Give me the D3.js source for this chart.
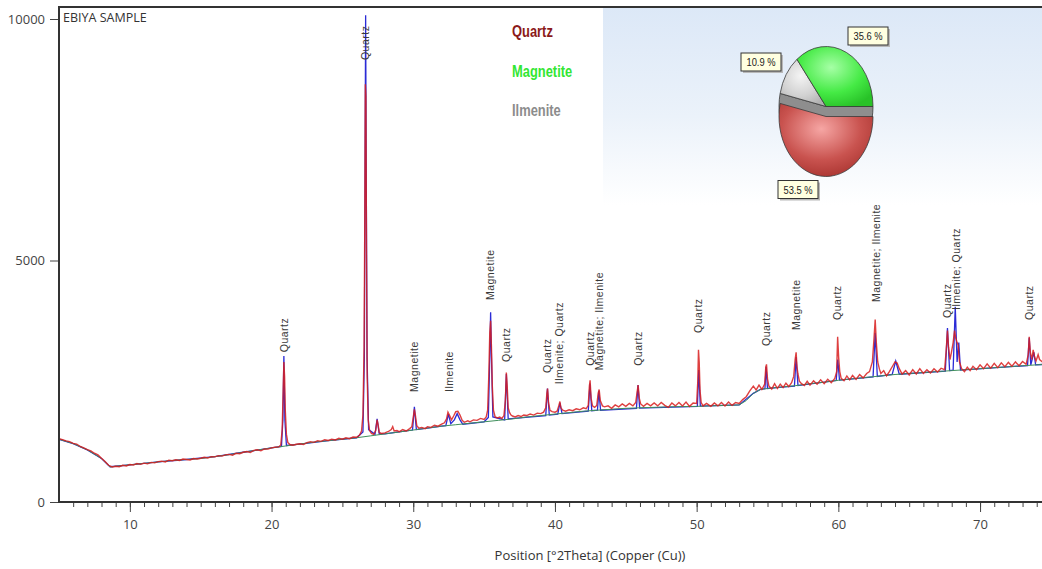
<!DOCTYPE html>
<html>
<head>
<meta charset="utf-8">
<script src="https://cdnjs.cloudflare.com/ajax/libs/d3/7.8.5/d3.min.js"></script>
<style>
  body { margin: 0; background: #fff; }
  svg { display: block; }
</style>
</head>
<body>
<script>
var WIDTH = 1042, HEIGHT = 569;

// observed scan [2theta, counts]
var observed = [
  [5.0,1310],[5.25,1290],[5.5,1265],[5.75,1250],[6.0,1215],[6.25,1200],[6.5,1150],[6.75,1120],[7.0,1085],[7.25,1060],
  [7.5,1010],[7.75,975],[8.0,905],[8.25,840],[8.5,760],[8.75,725],[9.0,740],[9.25,730],[9.5,760],[9.75,745],
  [10.0,775],[10.25,765],[10.5,795],[10.75,780],[11.0,805],[11.25,790],[11.5,820],[11.75,810],[12.0,835],[12.25,845],
  [12.5,830],[12.75,865],[13.0,855],[13.25,875],[13.5,860],[13.75,890],[14.0,880],[14.25,870],[14.5,900],[14.75,890],
  [15.0,905],[15.25,925],[15.5,910],[15.75,940],[16.0,935],[16.25,960],[16.5,950],[16.75,975],[17.0,985],[17.25,970],
  [17.5,1010],[17.75,1000],[18.0,1030],[18.25,1045],[18.5,1025],[18.75,1070],[19.0,1080],[19.25,1060],[19.5,1100],[19.75,1095],
  [20.0,1120],[20.25,1135],[20.5,1140],[20.65,1180],[20.75,1500],[20.82,2300],[20.87,2900],[20.92,2600],[20.97,1900],[21.05,1400],
  [21.15,1230],[21.3,1190],[21.5,1175],[21.75,1195],[22.0,1205],[22.25,1190],[22.5,1230],[22.75,1250],[23.0,1235],[23.25,1270],
  [23.5,1255],[23.75,1290],[24.0,1275],[24.25,1300],[24.5,1285],[24.75,1320],[25.0,1300],[25.25,1330],[25.5,1310],[25.75,1345],
  [26.0,1340],[26.2,1380],[26.35,1470],[26.45,1800],[26.53,3200],[26.58,5800],[26.62,8650],[26.66,8400],[26.7,5200],[26.75,2600],
  [26.82,1700],[26.92,1480],[27.05,1420],[27.2,1400],[27.35,1480],[27.45,1700],[27.52,1600],[27.6,1440],[27.75,1420],[28.0,1430],
  [28.25,1460],[28.45,1500],[28.55,1560],[28.65,1470],[28.85,1480],[29.0,1455],[29.25,1500],[29.5,1470],[29.75,1520],[29.9,1560],
  [30.0,1750],[30.08,1920],[30.15,1800],[30.25,1580],[30.4,1530],[30.6,1545],[30.85,1520],[31.0,1560],[31.25,1545],[31.5,1590],
  [31.75,1570],[32.0,1610],[32.2,1640],[32.35,1720],[32.45,1860],[32.55,1800],[32.7,1700],[32.85,1780],[33.0,1870],[33.15,1880],
  [33.3,1800],[33.45,1690],[33.6,1650],[33.85,1680],[34.0,1660],[34.25,1700],[34.5,1690],[34.75,1730],[35.0,1710],[35.15,1760],
  [35.25,1900],[35.33,2600],[35.4,3500],[35.46,3750],[35.52,3200],[35.58,2400],[35.66,1900],[35.78,1760],[35.95,1740],[36.1,1760],
  [36.25,1730],[36.4,1790],[36.5,2100],[36.57,2680],[36.63,2400],[36.7,1950],[36.8,1850],[36.9,1800],[37.0,1780],[37.2,1760],
  [37.4,1790],[37.6,1770],[37.8,1800],[38.0,1790],[38.25,1820],[38.5,1800],[38.75,1840],[39.0,1830],[39.2,1860],[39.35,1950],
  [39.43,2250],[39.48,2350],[39.55,2050],[39.65,1900],[39.8,1870],[40.0,1860],[40.15,1880],[40.28,2000],[40.35,2080],[40.42,1950],
  [40.55,1900],[40.75,1880],[41.0,1910],[41.25,1890],[41.5,1930],[41.75,1910],[42.0,1950],[42.2,1930],[42.35,2000],[42.43,2400],
  [42.48,2520],[42.55,2150],[42.65,1990],[42.8,1960],[42.95,2000],[43.05,2250],[43.12,2330],[43.2,2100],[43.35,1990],[43.5,1970],
  [43.75,1990],[44.0,1940],[44.25,2010],[44.5,1970],[44.75,2030],[45.0,1980],[45.25,2040],[45.5,1990],[45.7,2060],[45.8,2280],
  [45.87,2420],[45.95,2150],[46.05,2030],[46.25,1980],[46.5,2040],[46.75,1990],[47.0,2050],[47.25,1990],[47.5,2060],[47.75,2000],
  [48.0,1960],[48.25,2050],[48.5,1990],[48.75,2060],[49.0,1990],[49.25,2070],[49.5,1980],[49.75,2050],[50.0,2040],[50.08,2500],
  [50.13,3150],[50.18,2900],[50.24,2300],[50.32,2060],[50.45,1990],[50.7,2040],[51.0,1980],[51.25,2050],[51.5,1990],[51.75,2060],
  [52.0,1990],[52.25,2070],[52.5,2000],[52.75,2060],[53.0,2040],[53.25,2120],[53.5,2180],[53.75,2300],[54.0,2400],[54.2,2320],
  [54.4,2420],[54.6,2330],[54.8,2440],[54.88,2800],[54.93,2850],[55.0,2550],[55.1,2400],[55.3,2340],[55.5,2450],[55.7,2350],
  [55.9,2440],[56.1,2370],[56.3,2460],[56.5,2390],[56.7,2470],[56.85,2600],[56.95,2950],[57.02,3100],[57.08,2800],[57.15,2650],
  [57.25,2500],[57.4,2450],[57.6,2410],[57.8,2500],[58.0,2420],[58.25,2510],[58.5,2440],[58.75,2530],[59.0,2450],[59.25,2540],
  [59.5,2470],[59.75,2560],[59.88,2700],[59.95,3420],[60.02,3000],[60.1,2700],[60.2,2560],[60.4,2510],[60.6,2610],[60.8,2530],
  [61.0,2620],[61.25,2540],[61.5,2640],[61.75,2570],[62.0,2660],[62.2,2700],[62.4,2900],[62.52,3400],[62.6,3780],[62.68,3300],
  [62.78,2900],[62.9,2750],[63.0,2660],[63.2,2720],[63.4,2610],[63.6,2700],[63.8,2800],[64.0,2900],[64.15,2880],[64.3,2760],
  [64.5,2650],[64.75,2720],[65.0,2630],[65.25,2740],[65.5,2650],[65.75,2760],[66.0,2660],[66.25,2740],[66.5,2670],[66.75,2760],
  [67.0,2690],[67.25,2770],[67.5,2740],[67.6,3100],[67.7,3550],[67.78,3200],[67.88,2950],[67.98,3100],[68.1,3300],[68.2,3550],
  [68.28,3400],[68.38,3300],[68.45,3250],[68.55,2900],[68.7,2760],[68.9,2700],[69.1,2790],[69.3,2720],[69.5,2810],[69.75,2740],
  [70.0,2840],[70.25,2760],[70.5,2860],[70.75,2770],[71.0,2870],[71.25,2780],[71.5,2880],[71.75,2800],[72.0,2890],[72.25,2810],
  [72.5,2900],[72.75,2820],[73.0,2910],[73.25,2850],[73.4,3050],[73.47,3420],[73.55,3100],[73.65,2950],[73.75,3150],[73.85,3000],
  [73.95,2920],[74.1,3050],[74.2,2950],[74.4,2900],[74.6,2880]
];

// calculated profile [2theta, counts]
var calculated = [
  [5,1300],[6,1210],[7,1080],[8,900],[8.6,730],[9,740],[10,770],[12,830],[14,880],[16,940],[18,1030],[20,1120],
  [20.7,1150],[20.8,1700],[20.87,3020],[20.94,1700],[21.05,1170],[22,1200],[24,1270],[26,1330],
  [26.45,1450],[26.55,3000],[26.6,7000],[26.64,10080],[26.68,7000],[26.74,3000],[26.85,1500],
  [27.3,1400],[27.45,1720],[27.6,1410],[28,1410],[29,1450],[29.95,1490],[30.08,1970],[30.22,1500],[31,1530],[32,1570],
  [32.3,1580],[32.48,1820],[32.65,1620],[32.9,1700],[33.1,1830],[33.3,1700],[33.5,1610],[35,1660],
  [35.3,1750],[35.4,3000],[35.46,3930],[35.52,3000],[35.62,1760],[36.45,1700],[36.57,2650],[36.7,1720],
  [39.35,1790],[39.47,2350],[39.6,1800],[40.2,1820],[40.35,2050],[40.5,1830],[42.35,1880],[42.47,2450],[42.6,1890],
  [43,1900],[43.1,2300],[43.22,1900],[45.75,1940],[45.86,2420],[45.98,1945],[50.05,1980],[50.15,2730],[50.26,1985],
  [53,2010],[54,2250],[54.5,2330],[54.82,2345],[54.9,2800],[55.0,2350],[56,2380],[56.9,2400],[57.02,3000],[57.15,2410],
  [59.85,2515],[59.96,2950],[60.08,2525],[62.45,2590],[62.6,3500],[62.75,2600],[63.8,2640],[64.05,2920],[64.3,2645],
  [67.55,2710],[67.7,3600],[67.85,2720],[68.1,2730],[68.25,4040],[68.38,2900],[68.5,3300],[68.62,2730],
  [73.35,2825],[73.47,3400],[73.58,2835],[73.8,3100],[73.92,2840],[74.6,2850]
];

// fitted background [2theta, counts]
var background = [
  [5,1300],[6,1210],[7,1080],[8,900],[8.6,725],[9,740],[10,770],[11,800],[12,830],[13,860],[14,880],[15,900],
  [16,940],[17,980],[18,1030],[19,1075],[20,1120],[21,1160],[22,1200],[23,1240],[24,1270],[25,1300],[26,1330],
  [27,1370],[28,1410],[29,1450],[30,1490],[31,1530],[32,1570],[33,1600],[34,1630],[35,1660],[36,1690],[37,1720],
  [38,1760],[39,1790],[40,1820],[41,1850],[42,1880],[43,1900],[44,1920],[45,1940],[46,1950],[47,1960],[48,1970],
  [49,1975],[50,1980],[51,1990],[52,2000],[53,2010],[53.5,2100],[54,2250],[54.5,2330],[55,2350],[56,2380],[57,2410],
  [58,2450],[59,2480],[60,2520],[61,2550],[62,2580],[63,2610],[64,2640],[65,2660],[66,2680],[67,2700],[68,2720],
  [69,2740],[70,2760],[71,2780],[72,2800],[73,2820],[74,2840],[74.6,2850]
];

// peak annotations [2theta, text, label start in counts]
var peakLabels = [
  [20.9,'Quartz',3100],
  [26.65,'Quartz',9150],
  [30.1,'Magnetite',2280],
  [32.55,'Ilmenite',2280],
  [35.46,'Magnetite',4180],
  [36.6,'Quartz',2900],
  [39.48,'Quartz',2670],
  [40.33,'Ilmenite; Quartz',2440],
  [42.48,'Quartz',2820],
  [43.1,'Magnetite; Ilmenite',2730],
  [45.86,'Quartz',2820],
  [50.15,'Quartz',3500],
  [54.9,'Quartz',3230],
  [57.0,'Magnetite',3560],
  [59.95,'Quartz',3770],
  [62.65,'Magnetite; Ilmenite',4140],
  [67.72,'Quartz',3810],
  [68.3,'Ilmenite; Quartz',3975],
  [73.47,'Quartz',3770]
];

var phases = ['Quartz', 'Ilmenite', 'Magnetite'];
var phaseShares = [53.5, 10.9, 35.6];
var legendNames = ['Quartz', 'Magnetite', 'Ilmenite'];
var legendColors = ['#8b1a1a', '#33e633', '#8c8c8c'];

var xTicks = [10, 20, 30, 40, 50, 60, 70];
var yTicks = [0, 5000, 10000];

var PLOT_LEFT = 59, PLOT_TOP = 7, PLOT_BOTTOM = 502;

var x = d3.scaleLinear().domain([5, 75]).range([PLOT_LEFT, PLOT_LEFT + 70 * 14.17]);
var y = d3.scaleLinear().domain([0, 10000]).range([PLOT_BOTTOM, 19]);

var svg = d3.select('body').append('svg')
  .attr('width', WIDTH)
  .attr('height', HEIGHT);

var defs = svg.append('defs');
defs.append('clipPath').attr('id', 'plot-clip')
  .append('rect')
    .attr('x', PLOT_LEFT).attr('y', PLOT_TOP)
    .attr('width', WIDTH - PLOT_LEFT).attr('height', PLOT_BOTTOM - PLOT_TOP);

var inset = defs.append('linearGradient').attr('id', 'inset-bg')
  .attr('x1', 0).attr('y1', 0).attr('x2', 0).attr('y2', 1);
inset.append('stop').attr('offset', '0%').attr('stop-color', '#dce8f7');
inset.append('stop').attr('offset', '55%').attr('stop-color', '#ebf2fa');
inset.append('stop').attr('offset', '100%').attr('stop-color', '#ffffff');

function radial(id, c0, c1, c2) {
  var g = defs.append('radialGradient').attr('id', id)
    .attr('cx', '45%').attr('cy', '35%').attr('r', '70%');
  g.append('stop').attr('offset', '0%').attr('stop-color', c0);
  g.append('stop').attr('offset', '60%').attr('stop-color', c1);
  g.append('stop').attr('offset', '100%').attr('stop-color', c2);
}
radial('pie-red', '#f6a6a4', '#c9534f', '#a8332f');
radial('pie-gray', '#f4f4f4', '#d2d2d2', '#b0b0b0');
radial('pie-green', '#a6ffa6', '#45ea45', '#28c228');

var plot = svg.append('g').attr('clip-path', 'url(#plot-clip)');

var line = d3.line()
  .x(function (d) { return x(d[0]); })
  .y(function (d) { return y(d[1]); });

plot.append('path')
  .datum(calculated)
  .attr('d', line)
  .style('fill', 'none')
  .style('stroke', '#2b2bd6')
  .style('stroke-width', 1.3);

plot.append('path')
  .datum(background)
  .attr('d', line)
  .style('fill', 'none')
  .style('stroke', '#3f8f5c')
  .style('stroke-width', 1);

plot.append('path')
  .datum(observed)
  .attr('d', line)
  .style('fill', 'none')
  .style('stroke', '#d81e1e')
  .style('stroke-opacity', 0.85)
  .style('stroke-width', 1.4);

plot.selectAll('text.peak')
  .data(peakLabels)
  .enter().append('text')
    .attr('class', 'peak')
    .attr('transform', function (d) {
      return 'translate(' + x(d[0]) + ',' + y(d[2]) + ') rotate(-90)';
    })
    .attr('dy', '0.35em')
    .style('font-family', '"Liberation Sans", Arial, sans-serif')
    .style('font-size', '10.5px')
    .style('letter-spacing', '0.5px')
    .style('fill', '#3a3a3a')
    .text(function (d) { return d[1]; });

// inset with legend and pie
svg.append('rect')
  .attr('x', 603).attr('y', PLOT_TOP + 1)
  .attr('width', WIDTH - 603).attr('height', 197)
  .style('fill', 'url(#inset-bg)');

svg.selectAll('text.legend')
  .data(legendNames)
  .enter().append('text')
    .attr('class', 'legend')
    .attr('transform', function (d, i) {
      return 'translate(512,' + (37 + i * 39.5) + ') scale(0.76,1)';
    })
    .style('font-family', '"Liberation Sans", Arial, sans-serif')
    .style('font-weight', 'bold')
    .style('font-size', '17px')
    .style('fill', function (d, i) { return legendColors[i]; })
    .text(function (d) { return d; });

var PIE_X = 826, PIE_Y = 106.5, RX = 47, RY = 60, DROP = 10;
var pie = d3.pie().sort(null)
  .startAngle(Math.PI / 2)
  .endAngle(Math.PI / 2 + 2 * Math.PI);
var arcs = pie(phaseShares);
var arc = d3.arc().innerRadius(0).outerRadius(1);
var fills = ['url(#pie-red)', 'url(#pie-gray)', 'url(#pie-green)'];

function slice(d, dy, fill) {
  svg.append('path')
    .attr('d', arc(d))
    .attr('transform', 'translate(' + PIE_X + ',' + (PIE_Y + dy) + ') scale(' + RX + ',' + RY + ')')
    .attr('vector-effect', 'non-scaling-stroke')
    .style('fill', fill)
    .style('stroke', '#3a3a3a')
    .style('stroke-width', 0.8);
}
slice(arcs[0], 0, '#8e8e8e');
slice(arcs[0], DROP, fills[0]);
slice(arcs[1], 0, fills[1]);
slice(arcs[2], 0, fills[2]);

var boxCenters = [[798, 189.5], [761, 62], [868, 36]];
arcs.forEach(function (d, i) {
  var c = boxCenters[i];
  var g = svg.append('g').attr('transform', 'translate(' + (c[0] - 20) + ',' + (c[1] - 9) + ')');
  g.append('rect').attr('x', 2).attr('y', 2).attr('width', 40).attr('height', 18)
    .style('fill', '#b8b8b8');
  g.append('rect').attr('width', 40).attr('height', 18)
    .style('fill', '#ffffe0').style('stroke', '#333').style('stroke-width', 1);
  g.append('text')
    .attr('transform', 'translate(20,13) scale(0.85,1)')
    .attr('text-anchor', 'middle')
    .style('font-family', '"Liberation Sans", Arial, sans-serif')
    .style('font-size', '11px')
    .style('fill', '#222')
    .text(d3.format('.1f')(phaseShares[i]) + ' %');
});

// axes
var xAxis = svg.append('g')
  .attr('transform', 'translate(0,' + PLOT_BOTTOM + ')')
  .call(d3.axisBottom(x).tickValues(d3.range(6, 75)).tickSize(5).tickFormat(''));
xAxis.selectAll('.tick line').style('stroke', '#444');
xAxis.select('.domain').remove();

var xMajor = svg.append('g')
  .attr('transform', 'translate(0,' + PLOT_BOTTOM + ')')
  .call(d3.axisBottom(x).tickValues(xTicks).tickSize(10).tickPadding(8));
xMajor.select('.domain').remove();
xMajor.selectAll('.tick line').style('stroke', '#444');
xMajor.selectAll('.tick text')
  .style('font-family', '"Open Sans", sans-serif')
  .style('font-size', '13px')
  .style('fill', '#444');

var yAxis = svg.append('g')
  .attr('transform', 'translate(' + PLOT_LEFT + ',0)')
  .call(d3.axisLeft(y).tickValues(yTicks).tickSize(9).tickPadding(5).tickFormat(d3.format('d')));
yAxis.select('.domain').remove();
yAxis.selectAll('.tick line').style('stroke', '#444');
yAxis.selectAll('.tick text')
  .style('font-family', '"Open Sans", sans-serif')
  .style('font-size', '13px')
  .style('fill', '#444');

svg.append('path')
  .attr('d', 'M' + WIDTH + ',' + PLOT_TOP + 'H' + PLOT_LEFT + 'V' + PLOT_BOTTOM + 'H' + WIDTH)
  .style('fill', 'none')
  .style('stroke', '#333')
  .style('stroke-width', 2);

svg.append('text')
  .attr('x', 63).attr('y', 22)
  .style('font-family', '"Open Sans", sans-serif')
  .style('font-size', '12.5px')
  .style('fill', '#333')
  .text('EBIYA SAMPLE');

svg.append('text')
  .attr('x', 590).attr('y', 560)
  .attr('text-anchor', 'middle')
  .style('font-family', '"Open Sans", sans-serif')
  .style('font-size', '13px')
  .style('fill', '#333')
  .text('Position [°2Theta] (Copper (Cu))');
</script>
</body>
</html>
